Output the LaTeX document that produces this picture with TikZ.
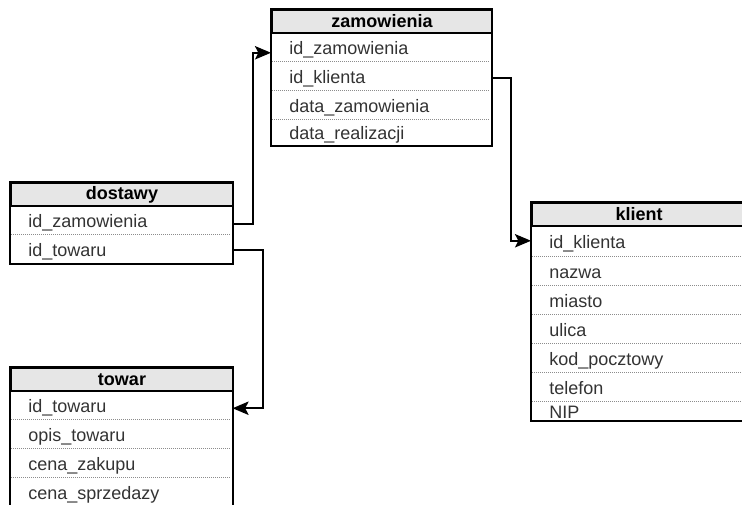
\documentclass[tikz,border=0pt]{standalone}
\usepackage{fontspec}
\setmainfont{Liberation Sans}
\usepackage{tikz}
\usetikzlibrary{arrows.meta}
\definecolor{headgray}{RGB}{230,230,230}
\definecolor{sepgray}{RGB}{140,140,140}
\tikzset{
  tabhead/.style={anchor=north west,draw=black,line width=1.5pt,fill=headgray,
    minimum width=#1,minimum height=17.25pt,inner sep=0pt,
    font=\fontsize{13.5pt}{16pt}\selectfont\bfseries},
  field/.style={anchor=north west,text width=#1,inner xsep=13.5pt,inner ysep=0pt,
    minimum height=21.75pt,text height=12pt,text depth=1pt,align=left,
    text=black!80,font=\fontsize{13.5pt}{16pt}\selectfont},
  tabframe/.style={draw=black,line width=1.5pt},
  rowsep/.style={densely dotted,sepgray,line width=0.5pt},
  fkarrow/.style={-{Stealth[length=12pt,width=10pt,inset=2.5pt]},line width=1.5pt}
}

\begin{document}
\begin{tikzpicture}[x=0.75pt,y=-0.75pt]
  \useasboundingbox (0,0) rectangle (742,504);
  \clip (0,0) rectangle (742,504);
  % zamowienia
  \node[tabhead=165pt] (zam) at (271,9) {zamowienia};
  \node[field=138pt] (zam-1) at (271,32) {id\_zamowienia};
  \node[field=138pt] (zam-2) at (271,61) {id\_klienta};
  \node[field=138pt] (zam-3) at (271,90) {data\_zamowienia};
  \node[field=138pt,minimum height=19.5pt] (zam-4) at (271,119) {data\_realizacji};
  \draw[tabframe] (zam.north west) rectangle (zam-4.south east);
  % dostawy
  \node[tabhead=166.5pt] (dost) at (10,182) {dostawy};
  \node[field=139.5pt] (dost-1) at (10,205) {id\_zamowienia};
  \node[field=139.5pt] (dost-2) at (10,234) {id\_towaru};
  \draw[tabframe] (dost.north west) rectangle (dost-2.south east);
  % towar
  \node[tabhead=166.5pt] (tow) at (10,367) {towar};
  \node[field=139.5pt] (tow-1) at (10,390) {id\_towaru};
  \node[field=139.5pt] (tow-2) at (10,419) {opis\_towaru};
  \node[field=139.5pt] (tow-3) at (10,448) {cena\_zakupu};
  \node[field=139.5pt] (tow-4) at (10,477) {cena\_sprzedazy};
  \draw[tabframe] (tow.north west) rectangle (tow-4.south east);
  % klient
  \node[tabhead=160.5pt] (kli) at (531,202) {klient};
  \node[field=133.5pt,minimum height=23.25pt] (kli-1) at (531,225) {id\_klienta};
  \node[field=133.5pt] (kli-2) at (531,256) {nazwa};
  \node[field=133.5pt] (kli-3) at (531,285) {miasto};
  \node[field=133.5pt] (kli-4) at (531,314) {ulica};
  \node[field=133.5pt] (kli-5) at (531,343) {kod\_pocztowy};
  \node[field=133.5pt] (kli-6) at (531,372) {telefon};
  \node[field=133.5pt,minimum height=14.25pt] (kli-7) at (531,401) {NIP};
  \draw[tabframe] (kli.north west) rectangle (kli-7.south east);
  % row separators
  \foreach \r in {zam-1,zam-2,zam-3,dost-1,tow-1,tow-2,tow-3,
                  kli-1,kli-2,kli-3,kli-4,kli-5,kli-6}
    \draw[rowsep] ([xshift=1pt]\r.south west) -- ([xshift=-1pt]\r.south east);
  % foreign keys
  \draw[fkarrow] ([yshift=-3.4pt]dost-1.east) -- ++(20,0) |- ([yshift=-4.5pt]zam-1.west);
  \draw[fkarrow] ([yshift=-1.5pt]zam-2.east) -- ++(19,0) |- (kli-1.west);
  \draw[fkarrow] ([yshift=-1.1pt]dost-2.east) -- ++(30,0) |- ([yshift=-2.6pt]tow-1.east);
\end{tikzpicture}
\end{document}
